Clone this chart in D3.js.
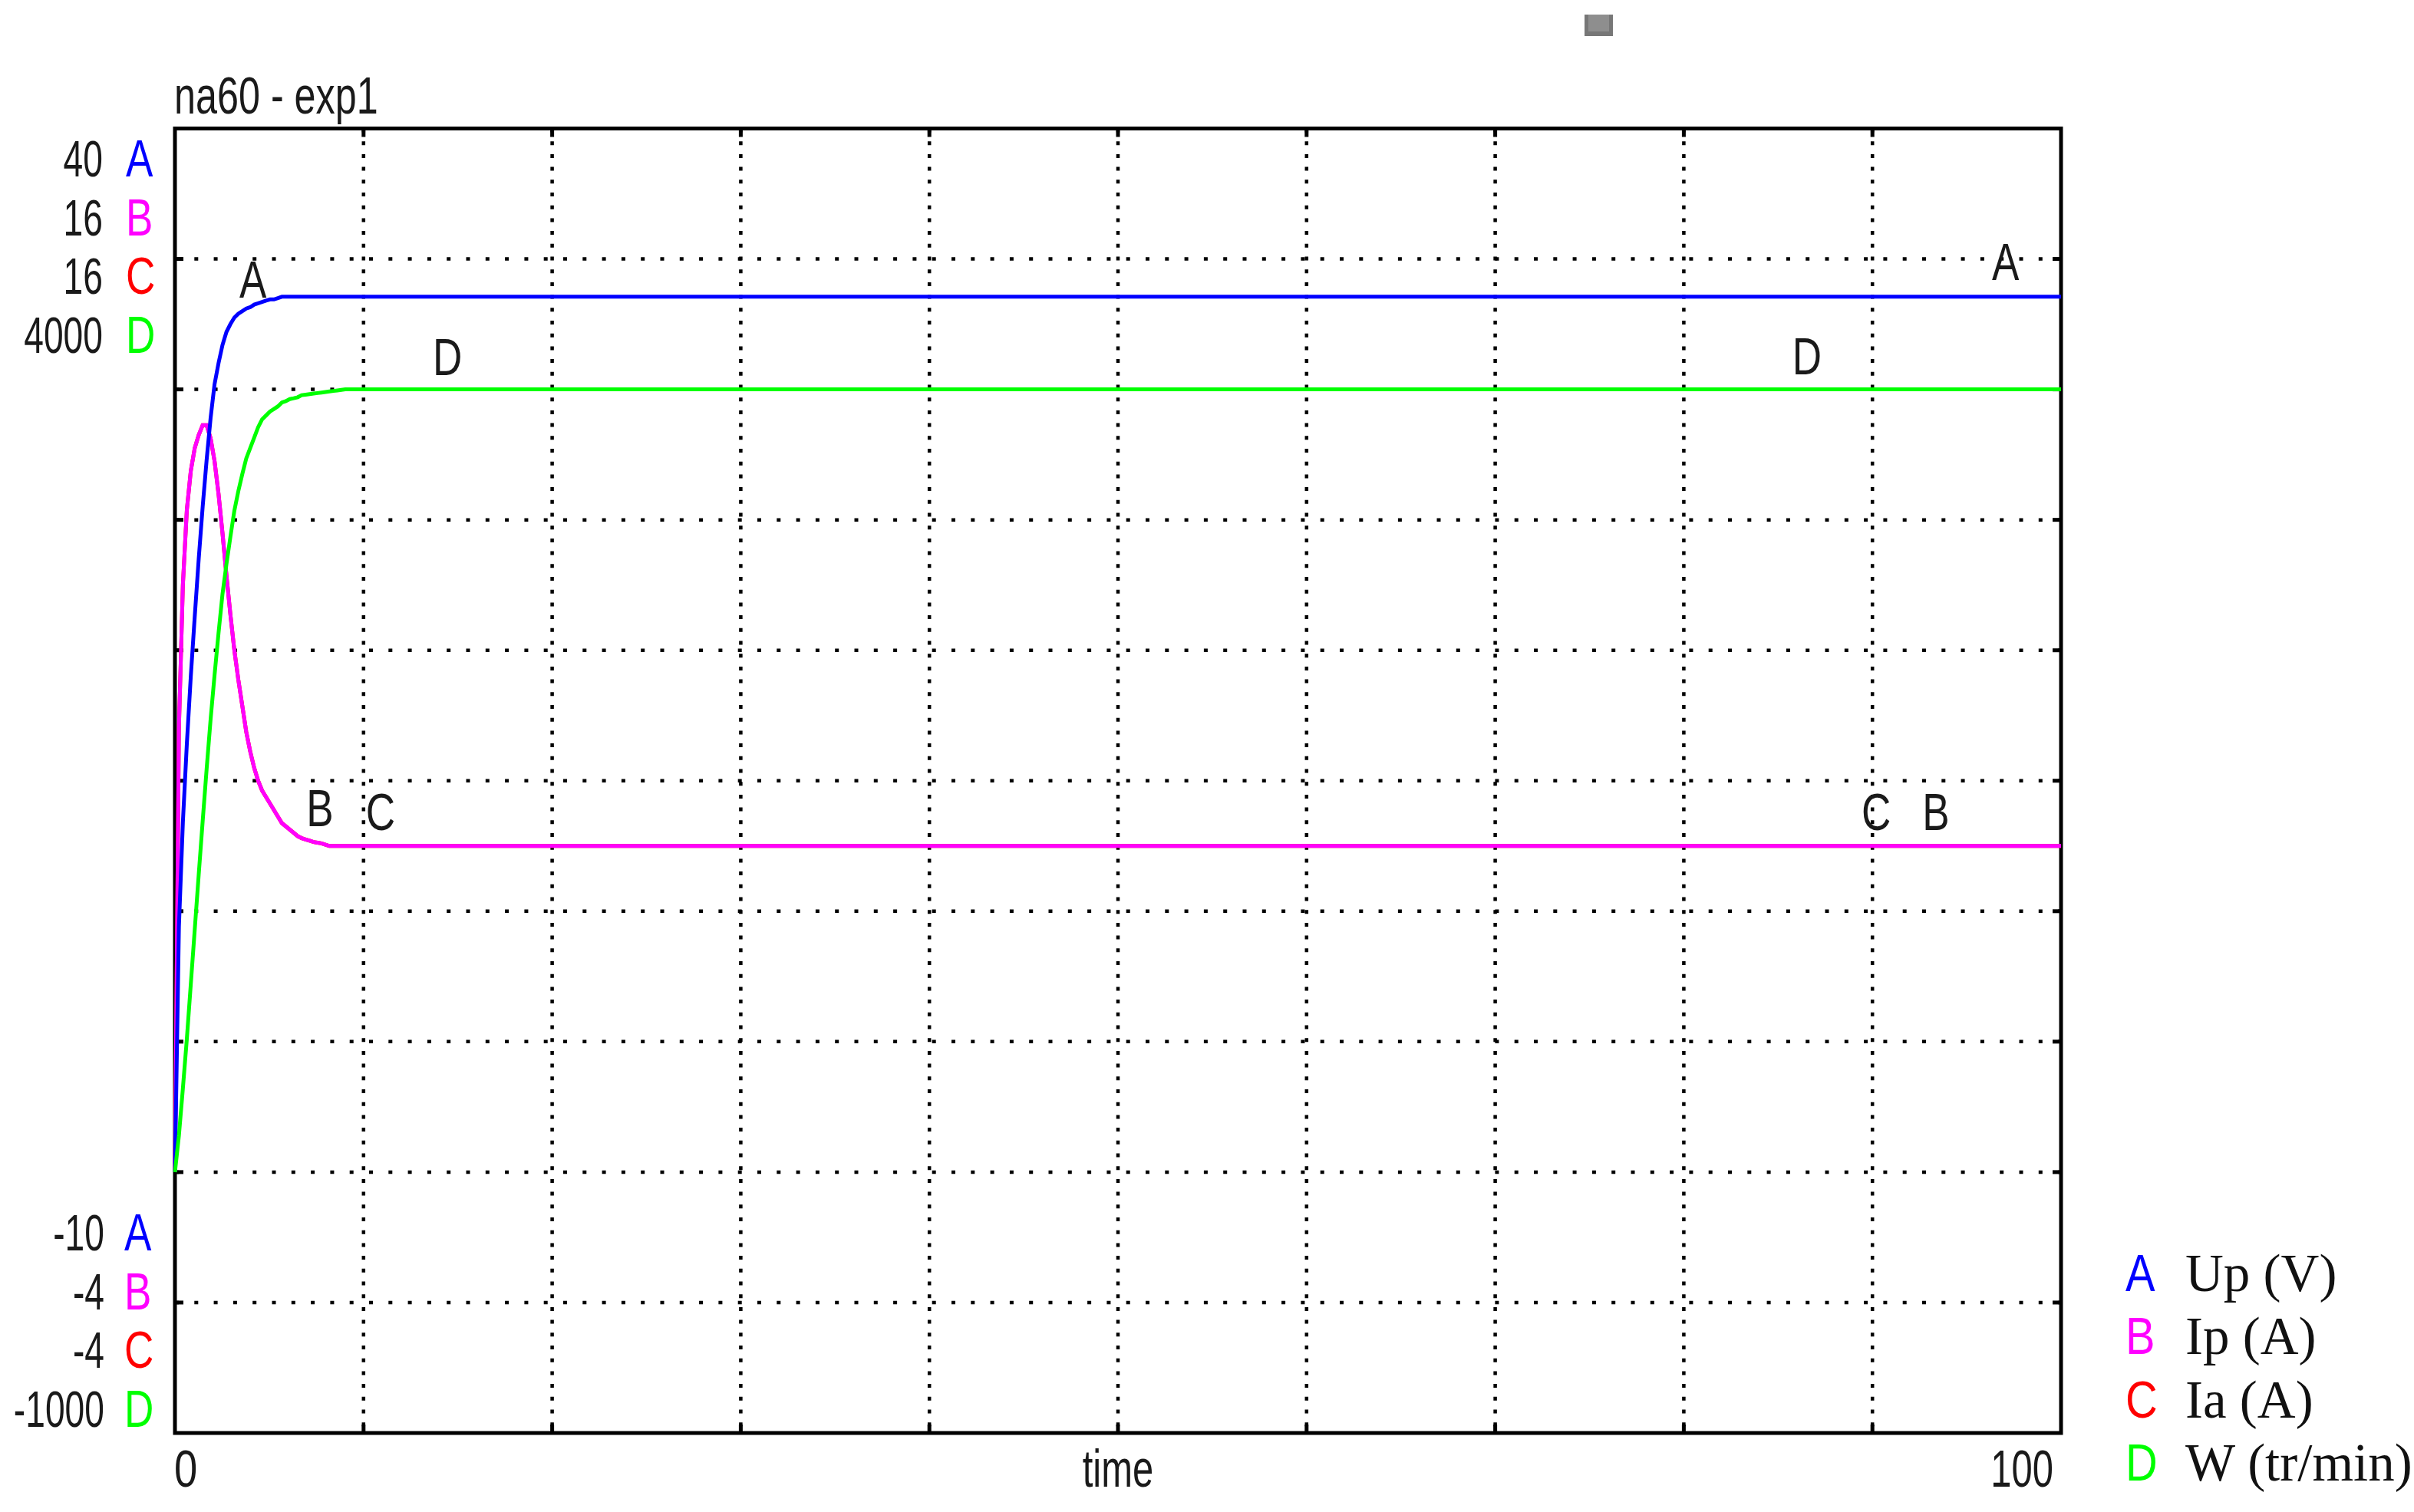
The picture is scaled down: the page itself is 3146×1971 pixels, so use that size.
<!DOCTYPE html>
<html><head><meta charset="utf-8">
<script src="https://cdn.jsdelivr.net/npm/d3@7"></script>
<style>body{margin:0;background:#fff}svg{display:block}</style>
</head><body>
<svg id="c" width="3146" height="1971"></svg>
<script>
// ---------- DATA ----------
const chartTitle = "na60 - exp1";
const time = [0, 0.21, 0.42, 0.63, 0.84, 1.05, 1.26, 1.47, 1.68, 1.89, 2.1, 2.31, 2.52, 2.73, 2.94, 3.15, 3.36, 3.57, 3.78, 3.99, 4.2, 4.41, 4.62, 4.83, 5.04, 5.25, 5.46, 5.67, 5.88, 6.09, 6.3, 6.51, 6.72, 6.93, 7.14, 7.35, 7.56, 7.77, 7.98, 8.19, 8.4, 8.61, 8.82, 9.03, 9.24, 9.45, 100];
// A : Up (V)
const upValues = [0, 9.4, 13.4, 16.4, 19.0, 21.3, 23.5, 25.5, 27.3, 28.9, 30.2, 31.0, 31.7, 32.2, 32.5, 32.75, 32.9, 33.0, 33.1, 33.15, 33.25, 33.3, 33.35, 33.4, 33.45, 33.45, 33.5, 33.55, 33.55, 33.55, 33.55, 33.55, 33.55, 33.55, 33.55, 33.55, 33.55, 33.55, 33.55, 33.55, 33.55, 33.55, 33.55, 33.55, 33.55, 33.55, 33.55];
// B : Ip (A)
const ipValues = [0, 6.8, 9.0, 10.15, 10.75, 11.1, 11.3, 11.45, 11.45, 11.25, 10.9, 10.4, 9.8, 9.15, 8.55, 8.0, 7.55, 7.15, 6.75, 6.45, 6.2, 6.0, 5.85, 5.75, 5.65, 5.55, 5.45, 5.35, 5.3, 5.25, 5.2, 5.15, 5.12, 5.1, 5.08, 5.06, 5.05, 5.04, 5.02, 5.0, 5.0, 5.0, 5.0, 5.0, 5.0, 5.0, 5.0];
// C : Ia (A)  (hidden under B in the reference)
const iaValues = [0, 6.8, 9.0, 10.15, 10.75, 11.1, 11.3, 11.45, 11.45, 11.25, 10.9, 10.4, 9.8, 9.15, 8.55, 8.0, 7.55, 7.15, 6.75, 6.45, 6.2, 6.0, 5.85, 5.75, 5.65, 5.55, 5.45, 5.35, 5.3, 5.25, 5.2, 5.15, 5.12, 5.1, 5.08, 5.06, 5.05, 5.04, 5.02, 5.0, 5.0, 5.0, 5.0, 5.0, 5.0, 5.0, 5.0];
// D : W (tr/min)
const wValues = [0, 140, 320, 510, 720, 930, 1140, 1345, 1545, 1735, 1905, 2065, 2215, 2330, 2435, 2535, 2610, 2675, 2735, 2775, 2815, 2855, 2885, 2900, 2915, 2925, 2935, 2950, 2955, 2963, 2966, 2970, 2978, 2980, 2982, 2984, 2986, 2988, 2990, 2992, 2994, 2996, 2998, 3000, 3000, 3000, 3000];

const seriesKeys = ["A", "B", "C", "D"];
const seriesNames = ["Up (V)", "Ip (A)", "Ia (A)", "W (tr/min)"];
const axisMax = [40, 16, 16, 4000];
const axisMin = [-10, -4, -4, -1000];
const xDomain = [0, 100];
const xTickLabels = ["0", "time", "100"];

// curve annotations (series, time, value)
const curveLabelSeries = ["A", "A", "D", "D", "B", "C", "C", "B"];
const curveLabelTimes = [4.14, 97.06, 14.45, 86.53, 7.69, 10.9, 90.2, 93.37];
const curveLabelValues = [33.52, 34.19, 3055, 3058, 5.30, 5.24, 5.24, 5.24];

// ---------- STYLE / LAYOUT ----------
const colors = {A: "#0000ff", B: "#ff00ff", C: "#ff0000", D: "#00ff00"};
const plot = {left: 228, right: 2686, top: 167.5, bottom: 1868};
const sans = "'Liberation Sans', Arial, sans-serif";
const serif = "'Liberation Serif', 'Times New Roman', serif";
const textColor = "#1a1a1a";

const svg = d3.select("#c");
const x = d3.scaleLinear().domain(xDomain).range([plot.left, plot.right]);
const yScales = {};
seriesKeys.forEach((k, i) => {
  yScales[k] = d3.scaleLinear().domain([axisMin[i], axisMax[i]]).range([plot.bottom, plot.top]);
});
const valuesByKey = {A: upValues, B: ipValues, C: iaValues, D: wValues};

// narrow text via horizontal scaling
function addText(parent, px, py, str, o) {
  return parent.append("text")
    .attr("transform", `translate(${px},${py}) scale(${o.f || 1},1)`)
    .attr("text-anchor", o.anchor || "start")
    .attr("font-family", o.family || sans)
    .attr("font-size", o.size || 68)
    .attr("fill", o.fill || textColor)
    .text(str);
}

// grey marker at top
svg.append("rect").attr("x", 2065).attr("y", 19).attr("width", 37).attr("height", 28).attr("fill", "#777");
svg.append("rect").attr("x", 2070).attr("y", 19).attr("width", 27).attr("height", 22).attr("fill", "#8e8e8e");

// grid
const g = svg.append("g");
const yA = yScales.A;
const hTicks = yA.ticks(10).filter(v => v > axisMin[0] && v < axisMax[0]);
const vTicks = x.ticks(10).filter(v => v > xDomain[0] && v < xDomain[1]);
g.selectAll("line.h").data(hTicks).join("line")
  .attr("x1", plot.left).attr("x2", plot.right)
  .attr("y1", d => yA(d)).attr("y2", d => yA(d))
  .attr("stroke", "#000").attr("stroke-width", 4.5).attr("stroke-dasharray", "5 20.3");
g.selectAll("line.v").data(vTicks).join("line")
  .attr("y1", plot.top).attr("y2", plot.bottom)
  .attr("x1", d => x(d)).attr("x2", d => x(d))
  .attr("stroke", "#000").attr("stroke-width", 4.5).attr("stroke-dasharray", "5 11.7");
// inward ticks
const tl = 11;
g.selectAll("line.tl").data(hTicks).join("line")
  .attr("x1", plot.left).attr("x2", plot.left + tl).attr("y1", d => yA(d)).attr("y2", d => yA(d))
  .attr("stroke", "#000").attr("stroke-width", 5);
g.selectAll("line.tr").data(hTicks).join("line")
  .attr("x1", plot.right - tl).attr("x2", plot.right).attr("y1", d => yA(d)).attr("y2", d => yA(d))
  .attr("stroke", "#000").attr("stroke-width", 5);
g.selectAll("line.tt").data(vTicks).join("line")
  .attr("y1", plot.top).attr("y2", plot.top + tl).attr("x1", d => x(d)).attr("x2", d => x(d))
  .attr("stroke", "#000").attr("stroke-width", 5);
g.selectAll("line.tb").data(vTicks).join("line")
  .attr("y1", plot.bottom - tl).attr("y2", plot.bottom).attr("x1", d => x(d)).attr("x2", d => x(d))
  .attr("stroke", "#000").attr("stroke-width", 5);

// frame
svg.append("rect").attr("x", plot.left).attr("y", plot.top)
  .attr("width", plot.right - plot.left).attr("height", plot.bottom - plot.top)
  .attr("fill", "none").attr("stroke", "#000").attr("stroke-width", 5);

// curves (C under B, then A, then D)
const drawOrder = ["C", "B", "A", "D"];
drawOrder.forEach(k => {
  const vals = valuesByKey[k];
  const line = d3.line().x((d, i) => x(time[i])).y(d => yScales[k](d));
  svg.append("path").datum(vals).attr("d", line)
    .attr("fill", "none").attr("stroke", colors[k]).attr("stroke-width", 5)
    .attr("stroke-linejoin", "miter");
});

// curve labels
curveLabelSeries.forEach((k, i) => {
  addText(svg, x(curveLabelTimes[i]), yScales[k](curveLabelValues[i]), k, {anchor: "middle", f: 0.78});
});

// title
addText(svg, 227, 148, chartTitle, {f: 0.74});

// left axis labels: max values (top group) and min values (bottom group)
const topBase = 230, botBase = 1630, rowStep = 76.7;
seriesKeys.forEach((k, i) => {
  addText(svg, 134, topBase + i * rowStep, String(axisMax[i]), {anchor: "end", size: 66, f: 0.7});
  addText(svg, 164, topBase + i * rowStep, k, {fill: colors[k], f: 0.78});
  addText(svg, 136, botBase + i * rowStep, String(axisMin[i]), {anchor: "end", size: 66, f: 0.7});
  addText(svg, 162, botBase + i * rowStep, k, {fill: colors[k], f: 0.78});
});

// x labels
addText(svg, x(xDomain[0]) - 1, 1938, xTickLabels[0], {f: 0.8});
addText(svg, x((xDomain[0] + xDomain[1]) / 2), 1938, xTickLabels[1], {anchor: "middle", f: 0.72});
addText(svg, x(xDomain[1]) - 10, 1938, xTickLabels[2], {anchor: "end", f: 0.72});

// legend
const legBase = 1683, legStep = 82.3;
seriesKeys.forEach((k, i) => {
  addText(svg, 2770, legBase + i * legStep, k, {fill: colors[k], f: 0.85});
  addText(svg, 2848, legBase + i * legStep, seriesNames[i], {family: serif, size: 69, fill: "#111"});
});
</script>
</body></html>
